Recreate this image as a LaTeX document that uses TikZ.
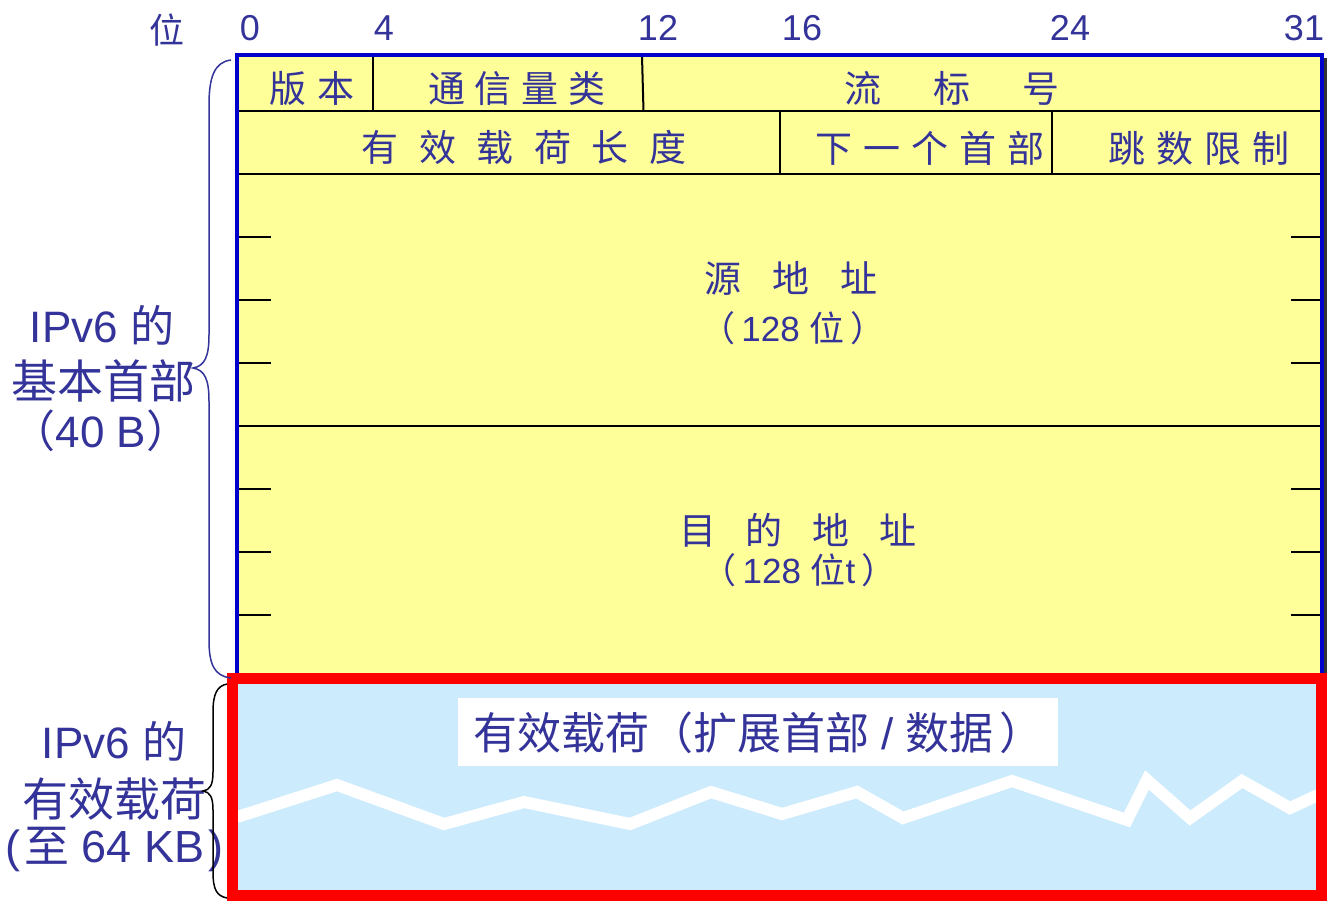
\documentclass[tikz,border=0pt]{standalone}
\usepackage{fontspec}
\setmainfont{Liberation Sans}
\newfontfamily\cjk{Noto Sans CJK SC}
\definecolor{txt}{HTML}{333399}
\definecolor{hdr}{HTML}{FFFF99}
\definecolor{pay}{HTML}{CCEBFD}
\definecolor{bord}{HTML}{0000CC}
\definecolor{shad}{HTML}{333333}
\begin{document}
\begin{tikzpicture}[x=1pt,y=-1pt,
  lbl/.style={text=txt, inner sep=0pt, font=\fontsize{37}{44}\selectfont\cjk},
  bit/.style={text=txt, inner sep=0pt, font=\fontsize{36}{40}\selectfont},
  side/.style={text=txt, inner sep=0pt, font=\fontsize{47}{54}\selectfont},
  rule/.style={line width=2pt, black},
  tick/.style={line width=2.5pt, black},
]
\useasboundingbox (0,0) rectangle (1338,902);
% header area
\fill[hdr] (237,56) rectangle (1320,678);
\draw[rule] (237,111) -- (1320,111);
\draw[rule] (237,174) -- (1320,174);
\draw[rule] (237,426) -- (1320,426);
\draw[rule] (373,56) -- (373,111);
\draw[rule] (642,56) -- (643.5,111);
\draw[rule] (780,111) -- (780,174);
\draw[rule] (1052,111) -- (1052,174);
\foreach \y in {237,300,363,489,552,615}{
  \draw[tick] (237,\y) -- (271,\y);
  \draw[tick] (1291,\y) -- (1320,\y);
}
\draw[shad, line width=3pt] (1325.5,58) -- (1325.5,676);
\draw[bord, line width=4pt] (237,676) -- (237,55) -- (1322,55) -- (1322,676);
% bit labels
\node[bit, font=\fontsize{35}{40}\selectfont\cjk] (bw) at (167,30) {位};
\node[bit] (b0) at (250,28) {0};
\node[bit] (b4) at (384,28) {4};
\node[bit] (b12) at (658,28) {12};
\node[bit] (b16) at (802,28) {16};
\node[bit] (b24) at (1070,28) {24};
\node[bit] (b31) at (1304,28) {31};
% field labels
\node[lbl] (ver) at (312,88) {版\hspace{12pt}本};
\node[lbl] (tc) at (517,88) {通\hspace{10pt}信\hspace{10pt}量\hspace{10pt}类};
\node[lbl] (fl) at (952,88) {流\hspace{52pt}标\hspace{52pt}号};
\node[lbl] (plen) at (524,147) {有\hspace{20.5pt}效\hspace{20.5pt}载\hspace{20.5pt}荷\hspace{20.5pt}长\hspace{20.5pt}度};
\node[lbl] (nh) at (930,148) {下\hspace{11pt}一\hspace{11pt}个\hspace{11pt}首\hspace{11pt}部};
\node[lbl] (hl) at (1199,148) {跳\hspace{11pt}数\hspace{11pt}限\hspace{11pt}制};
\node[lbl] (src) at (791,278) {源\hspace{31pt}地\hspace{31pt}址};
\node[lbl, font=\fontsize{35}{40}\selectfont] (srcb) at (793,328) {{\cjk （}\hspace{6pt}128 {\cjk 位}\hspace{6pt}{\cjk ）}};
\node[lbl] (dst) at (798,530) {目\hspace{30pt}的\hspace{30pt}地\hspace{30pt}址};
\node[lbl, font=\fontsize{35}{40}\selectfont] (dstb) at (799,570) {{\cjk （}\hspace{6pt}128 {\cjk 位}t\hspace{6pt}{\cjk ）}};
% payload
\fill[pay] (232,678) rectangle (1321,896);
\draw[white, line width=12pt] (237,817) -- (337,785) -- (444,824) -- (524,802) -- (630,824) -- (711,792) -- (782,814) -- (857,792) -- (903,818) -- (1012,781) -- (1127,820) -- (1147,780) -- (1190,818) -- (1242,781) -- (1290,808) -- (1318,795);
\draw[red, line width=10.5pt] (232.5,678.5) rectangle (1321.5,895.5);
\node[fill=white, minimum width=600pt, minimum height=68pt, inner sep=0pt] (plbox) at (758,732) {};
\node[text=txt, inner sep=0pt, anchor=west, font=\fontsize{44}{50}\selectfont] (pl) at (473,733) {{\cjk 有效载荷（扩展首部} / {\cjk 数据}\hspace{6pt}{\cjk ）}};
% side labels
\node[side, font=\fontsize{44}{54}\selectfont] (h1) at (102,325) {IPv6 {\cjk 的}};
\node[side, font=\fontsize{46}{54}\selectfont\cjk] (h2) at (103,381) {基本首部};
\node[side, font=\fontsize{44}{54}\selectfont] (h3) at (101,431) {{\cjk （}40 B{\cjk ）}};
\node[side, font=\fontsize{44}{54}\selectfont] (p1) at (114,741) {IPv6 {\cjk 的}};
\node[side, font=\fontsize{46}{54}\selectfont\cjk] (p2) at (115,799) {有效载荷};
\node[side, font=\fontsize{45}{54}\selectfont, anchor=west] (p3) at (5,849) {(\hspace{4pt}{\cjk 至} 64 KB\hspace{4pt})};
% braces
\coordinate (ht) at (231,60);
\coordinate (hb) at (231,678);
\coordinate (pt) at (227,684);
\coordinate (pb) at (227,898);
\draw[txt, line width=1.5pt] (ht) .. controls (214,62) and (209,78) .. (209,105) -- (209,335) .. controls (209,356) and (205,366) .. (193,368) .. controls (205,370) and (209,380) .. (209,401) -- (209,640) .. controls (209,664) and (214,676) .. (hb);
\draw[black, line width=1.5pt] (pt) .. controls (217,686) and (213,694) .. (213,712) -- (213,772) .. controls (213,785) and (210,790) .. (203,791) .. controls (210,792) and (213,797) .. (213,810) -- (213,872) .. controls (213,890) and (217,896) .. (pb);
\end{tikzpicture}
\end{document}
